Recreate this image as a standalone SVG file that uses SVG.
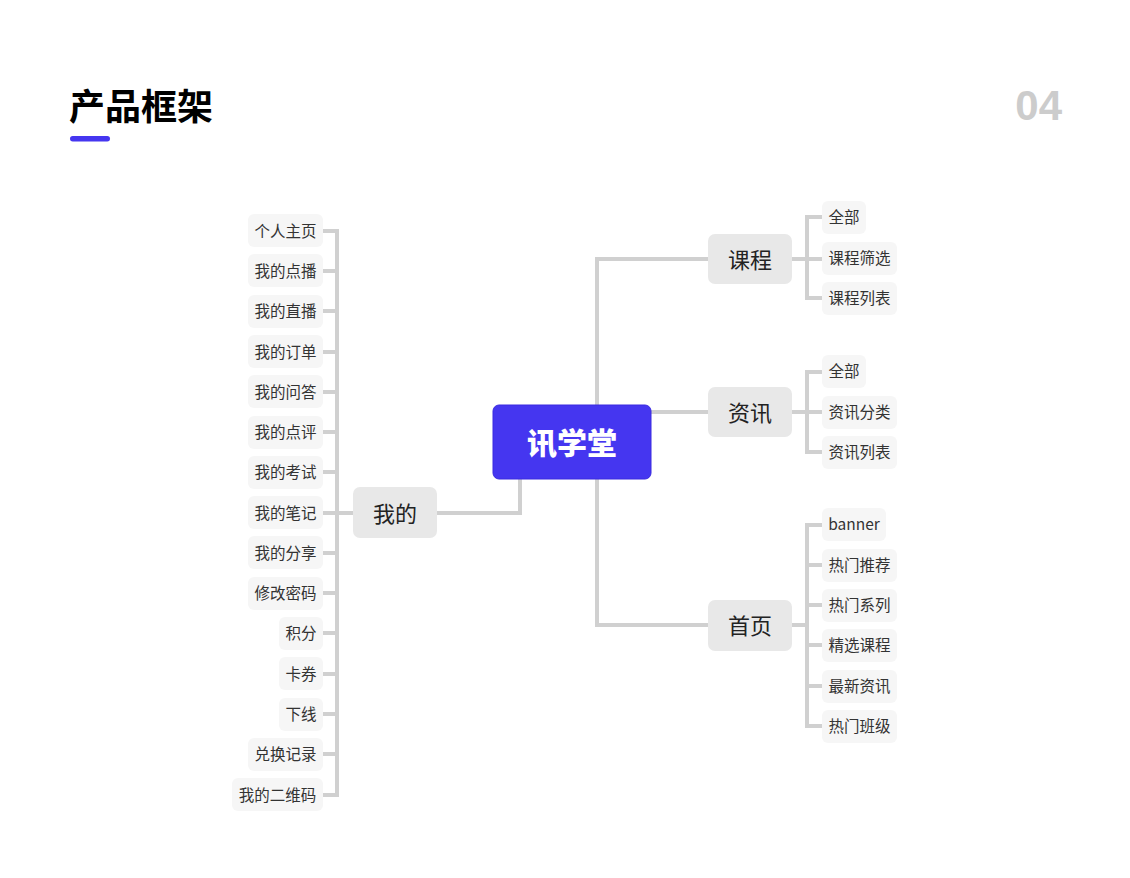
<svg xmlns="http://www.w3.org/2000/svg" width="1130" height="878" viewBox="0 0 1130 878">
<style>
.ln{fill:none;stroke:#d0d0d0;stroke-width:4;stroke-linejoin:miter}
.leaf rect{fill:#f6f6f6}
.leaf text{font-family:"Noto Sans CJK SC","Noto Sans",sans-serif;font-size:15.5px;fill:#333;text-anchor:middle;dominant-baseline:central;transform:translateY(-1px)}
.mid rect{fill:#e8e8e8}
.mid text{font-family:"Noto Sans CJK SC",sans-serif;font-size:22px;fill:#222;text-anchor:middle;dominant-baseline:central;transform:translateY(-1.5px)}
</style>
<rect width="1130" height="878" fill="#ffffff"/>
<g id="title">
<text x="69" y="120" font-family="Noto Sans CJK SC, sans-serif" font-size="36" font-weight="700" fill="#000">产品框架</text>
<rect x="70" y="136" width="40" height="5.5" rx="2.75" fill="#4536f0"/>
</g>
<text id="page-num" x="1062" y="120" font-family="Liberation Sans, Arial, sans-serif" font-size="42" font-weight="700" fill="#cccccc" text-anchor="end">04</text>
<g id="connectors">
<path class="ln" d="M597 405 V259 H708 M597 479 V625 H708 M651 412 H708"/>
<path class="ln" d="M520 479 V513 H437"/>
<path class="ln" d="M792 259 H807 M822 217 H807 V298 H822 M807 259 H822"/>
<path class="ln" d="M792 412 H807 M822 372 H807 V452 H822 M807 412 H822"/>
<path class="ln" d="M792 625 H807 M822 525 H807 V726 H822 M807 565 H822 M807 605 H822 M807 645 H822 M807 686 H822"/>
<path class="ln" d="M353 513 H337 M323 231 H337 V795 H323 M323 271 H337 M323 311 H337 M323 352 H337 M323 392 H337 M323 432 H337 M323 472 H337 M323 513 H337 M323 553 H337 M323 593 H337 M323 633 H337 M323 674 H337 M323 714 H337 M323 754 H337"/>
</g>
<g id="root">
<rect x="493" y="405" width="158" height="74" rx="6" fill="#4536f0" stroke="#3a2be0" stroke-width="1"/>
<text x="572" y="441" font-family="Noto Sans CJK SC, sans-serif" font-size="30" font-weight="900" fill="#fff" text-anchor="middle" dominant-baseline="central">讯学堂</text>
</g>
<g id="kecheng" class="mid"><rect x="708" y="234" width="84" height="50" rx="7"/><text x="750" y="259">课程</text></g>
<g id="zixun" class="mid"><rect x="708" y="387" width="84" height="50" rx="7"/><text x="750" y="412">资讯</text></g>
<g id="shouye" class="mid"><rect x="708" y="600" width="84" height="51" rx="7"/><text x="750" y="625">首页</text></g>
<g id="wode" class="mid"><rect x="353" y="487" width="84" height="51" rx="7"/><text x="395" y="513">我的</text></g>

<g id="kc-1" class="leaf"><rect x="822" y="201" width="44" height="33" rx="6"/><text x="844" y="217">全部</text></g>
<g id="kc-2" class="leaf"><rect x="822" y="242" width="75" height="33" rx="6"/><text x="859.5" y="258">课程筛选</text></g>
<g id="kc-3" class="leaf"><rect x="822" y="282" width="75" height="33" rx="6"/><text x="859.5" y="298">课程列表</text></g>

<g id="zx-1" class="leaf"><rect x="822" y="355" width="44" height="33" rx="6"/><text x="844" y="371">全部</text></g>
<g id="zx-2" class="leaf"><rect x="822" y="396" width="75" height="33" rx="6"/><text x="859.5" y="412">资讯分类</text></g>
<g id="zx-3" class="leaf"><rect x="822" y="436" width="75" height="33" rx="6"/><text x="859.5" y="452">资讯列表</text></g>

<g id="sy-1" class="leaf"><rect x="822" y="508" width="64" height="33" rx="6"/><text x="854" y="524">banner</text></g>
<g id="sy-2" class="leaf"><rect x="822" y="549" width="75" height="33" rx="6"/><text x="859.5" y="565">热门推荐</text></g>
<g id="sy-3" class="leaf"><rect x="822" y="589" width="75" height="33" rx="6"/><text x="859.5" y="605">热门系列</text></g>
<g id="sy-4" class="leaf"><rect x="822" y="629" width="75" height="33" rx="6"/><text x="859.5" y="645">精选课程</text></g>
<g id="sy-5" class="leaf"><rect x="822" y="670" width="75" height="33" rx="6"/><text x="859.5" y="686">最新资讯</text></g>
<g id="sy-6" class="leaf"><rect x="822" y="710" width="75" height="33" rx="6"/><text x="859.5" y="726">热门班级</text></g>

<g id="wd-1" class="leaf"><rect x="248" y="214" width="75" height="33" rx="6"/><text x="285.5" y="231">个人主页</text></g>
<g id="wd-2" class="leaf"><rect x="248" y="254" width="75" height="33" rx="6"/><text x="285.5" y="271">我的点播</text></g>
<g id="wd-3" class="leaf"><rect x="248" y="295" width="75" height="33" rx="6"/><text x="285.5" y="311">我的直播</text></g>
<g id="wd-4" class="leaf"><rect x="248" y="335" width="75" height="33" rx="6"/><text x="285.5" y="352">我的订单</text></g>
<g id="wd-5" class="leaf"><rect x="248" y="375" width="75" height="33" rx="6"/><text x="285.5" y="392">我的问答</text></g>
<g id="wd-6" class="leaf"><rect x="248" y="416" width="75" height="33" rx="6"/><text x="285.5" y="432">我的点评</text></g>
<g id="wd-7" class="leaf"><rect x="248" y="456" width="75" height="33" rx="6"/><text x="285.5" y="472">我的考试</text></g>
<g id="wd-8" class="leaf"><rect x="248" y="496" width="75" height="33" rx="6"/><text x="285.5" y="513">我的笔记</text></g>
<g id="wd-9" class="leaf"><rect x="248" y="536" width="75" height="33" rx="6"/><text x="285.5" y="553">我的分享</text></g>
<g id="wd-10" class="leaf"><rect x="248" y="577" width="75" height="33" rx="6"/><text x="285.5" y="593">修改密码</text></g>
<g id="wd-11" class="leaf"><rect x="279" y="617" width="44" height="33" rx="6"/><text x="301" y="633">积分</text></g>
<g id="wd-12" class="leaf"><rect x="279" y="657" width="44" height="33" rx="6"/><text x="301" y="674">卡券</text></g>
<g id="wd-13" class="leaf"><rect x="279" y="698" width="44" height="33" rx="6"/><text x="301" y="714">下线</text></g>
<g id="wd-14" class="leaf"><rect x="248" y="738" width="75" height="33" rx="6"/><text x="285.5" y="754">兑换记录</text></g>
<g id="wd-15" class="leaf"><rect x="232" y="778" width="91" height="33" rx="6"/><text x="277.5" y="795">我的二维码</text></g>
</svg>
